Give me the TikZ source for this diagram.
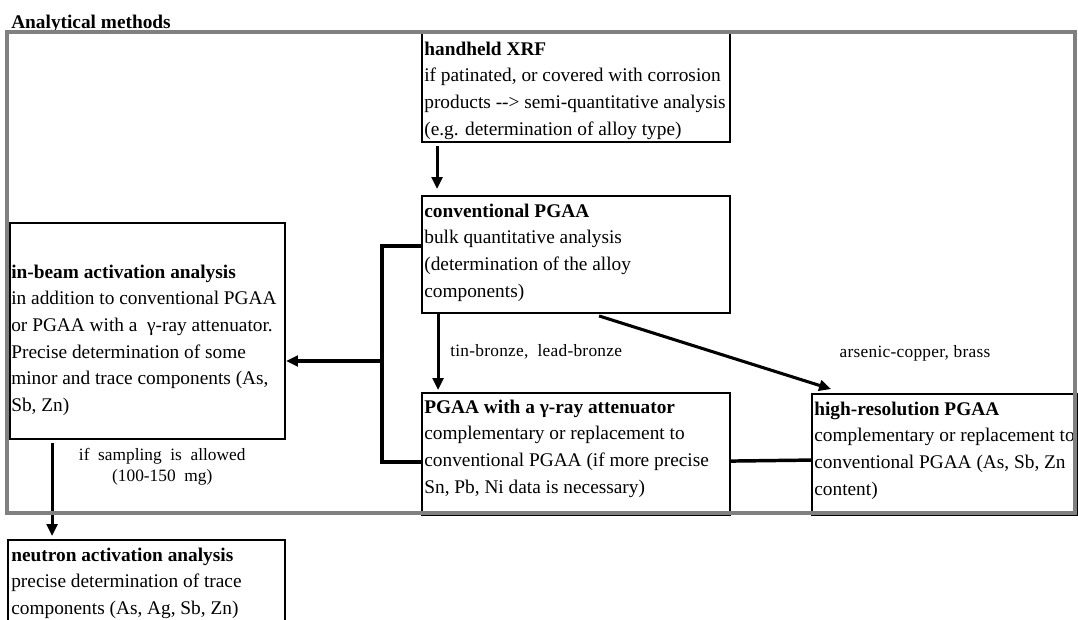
\documentclass[tikz,border=0pt]{standalone}
\usepackage{fontspec}
\setmainfont{Liberation Serif}
\newfontfamily\lblfont[LetterSpace=1.5]{Liberation Serif}
\newfontfamily\lblwfont[WordSpace=2]{Liberation Serif}
\usetikzlibrary{arrows.meta,calc,fit}
\tikzset{
  box/.style={draw, line width=1.4pt, inner sep=0pt},
  txt/.style={anchor=north west, align=left, inner sep=0pt, font=\fontsize{14.5}{20}\selectfont},
  lbl/.style={inner sep=0pt, align=center, font=\lblfont\fontsize{13}{15.75}\selectfont},
  arr/.style={line width=2.3pt, -{Triangle[length=9pt,width=8pt]}},
  link/.style={line width=2.6pt}
}
\begin{document}
\begin{tikzpicture}[x=0.75pt,y=-0.75pt]
\clip (0,0) rectangle (1078,619);
\node[anchor=base west, inner sep=0pt, font=\fontsize{14.5}{16}\selectfont\bfseries] (title) at (11,28) {Analytical methods};
% boxes
\node[box, fit={(422,33) (730,142)}] (xrf) {};
\node[box, fit={(422,196) (730,313)}] (conv) {};
\node[box, fit={(422,393) (730,515)}] (gamma) {};
\node[box, fit={(812,394) (1077,515)}] (highres) {};
\node[box, fit={(10,223) (285,439)}] (inbeam) {};
\node[box, fit={(8,540) (285,630)}] (neutron) {};
% texts
\node[txt] (xrftxt) at ($(xrf.north west)+(3,4)$) {\strut\textbf{handheld XRF}\\if patinated, or covered with corrosion\\products -\kern0pt-\kern0pt> semi-quantitative analysis\\(e.g. determination of alloy type)};
\node[txt] (convtxt) at ($(conv.north west)+(3,3)$) {\strut\textbf{conventional PGAA}\\bulk quantitative analysis\\(determination of the alloy\\components)};
\node[txt] (gammatxt) at ($(gamma.north west)+(3,2)$) {\strut\textbf{PGAA with a γ-ray attenuator}\\complementary or replacement to\\conventional PGAA (if more precise\\Sn, Pb, Ni data is necessary)};
\node[txt] (highrestxt) at ($(highres.north west)+(3,3)$) {\strut\textbf{high-resolution PGAA}\\complementary or replacement to\\conventional PGAA (As, Sb, Zn\\content)};
\node[txt] (inbeamtxt) at ($(inbeam.north west)+(2,37)$) {\strut\textbf{in-beam activation analysis}\\in addition to conventional PGAA\\or PGAA with a~ γ-ray attenuator.\\Precise determination of some\\minor and trace components (As,\\Sb, Zn)};
\node[txt] (neutrontxt) at ($(neutron.north west)+(4,3)$) {\strut\textbf{neutron activation analysis}\\precise determination of trace\\components (As, Ag, Sb, Zn)};
% connectors
\draw[arr] ($(xrf.south west)+(16,3)$) -- ($(conv.north west)+(16,-6)$);
\draw[arr] ($(conv.south west)+(17,0)$) -- node[lbl, right=8pt] (lbltin) {tin-bronze,~ lead-bronze} ($(gamma.north west)+(17,-2)$);
\draw[link] ($(conv.north west)+(0,51)$) -| (382,361) coordinate (split) |- ($(gamma.north west)+(0,70)$);
\draw[arr] (split) -- (split -| inbeam.east);
\draw[link] ($(gamma.north east)+(0,69)$) -- ($(highres.north west)+(0,67)$);
\draw[arr] ($(conv.south west)+(178,2)$) -- ($(highres.north west)+(20,-4)$);
\node[lbl] (lblas) at (915,353) {arsenic-copper, brass};
\draw[arr] ($(inbeam.south west)+(43,3)$) -- node[lbl, font=\lblwfont\fontsize{13}{15.75}\selectfont, pos=0.26, right=19pt] (lblsamp) {if sampling is allowed\\(100-150 mg)} ($(neutron.north west)+(45,-3)$);
% frame
\draw[gray, line width=3pt] (7,32) rectangle (1075,513);
\end{tikzpicture}
\end{document}
